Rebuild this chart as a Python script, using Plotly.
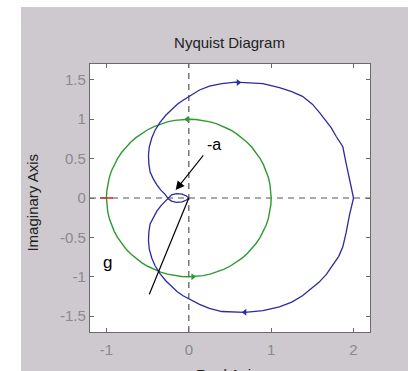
import plotly.graph_objects as go

# ---- data ----
blue_lower_re = [2.00, 1.99, 1.97, 1.95, 1.91, 1.87, 1.82, 1.75, 1.67, 1.58, 1.48, 1.38, 1.25, 1.10, 0.90,
                 0.68, 0.40, 0.25, 0.13, 0.03, -0.07, -0.14, -0.21, -0.28, -0.35, -0.41, -0.45, -0.48,
                 -0.49, -0.485, -0.47, -0.43, -0.39, -0.34, -0.29, -0.25, -0.21, -0.15, -0.08, -0.03, 0.00]
blue_lower_im = [0.00, -0.04, -0.12, -0.22, -0.44, -0.62, -0.74, -0.85, -0.97, -1.07, -1.16, -1.24, -1.32,
                 -1.38, -1.43, -1.45, -1.44, -1.40, -1.35, -1.30, -1.24, -1.19, -1.12, -1.05, -0.96,
                 -0.86, -0.76, -0.65, -0.54, -0.43, -0.33, -0.24, -0.17, -0.10, -0.05, 0.00, 0.04,
                 0.055, 0.05, 0.025, 0.00]
blue_upper_re = [0.00, -0.03, -0.08, -0.15, -0.21, -0.25, -0.29, -0.34, -0.39, -0.43, -0.47, -0.485, -0.49,
                 -0.48, -0.45, -0.41, -0.35, -0.28, -0.21, -0.14, -0.07, 0.03, 0.13, 0.25, 0.40, 0.57,
                 0.68, 0.90, 1.10, 1.25, 1.38, 1.50, 1.59, 1.66, 1.73, 1.79, 1.87, 1.91, 1.95, 1.97,
                 1.99, 2.00]
blue_upper_im = [0.00, -0.025, -0.05, -0.055, -0.04, -0.01, 0.05, 0.10, 0.17, 0.24, 0.33, 0.43, 0.54,
                 0.65, 0.76, 0.86, 0.96, 1.05, 1.12, 1.19, 1.24, 1.31, 1.37, 1.42, 1.45, 1.47,
                 1.465, 1.45, 1.40, 1.35, 1.29, 1.19, 1.08, 0.99, 0.89, 0.78, 0.65, 0.44, 0.23, 0.12,
                 0.04, 0.00]

green_re = [1.000, 0.996, 0.985, 0.966, 0.940, 0.906, 0.866, 0.819, 0.766, 0.707, 0.643, 0.574,
            0.500, 0.423, 0.342, 0.259, 0.174, 0.087, 0.000, -0.087, -0.174, -0.259, -0.342, -0.423,
            -0.500, -0.574, -0.643, -0.707, -0.766, -0.819, -0.866, -0.906, -0.940, -0.966, -0.985, -0.996,
            -1.000, -0.996, -0.985, -0.966, -0.940, -0.906, -0.866, -0.819, -0.766, -0.707, -0.643, -0.574,
            -0.500, -0.423, -0.342, -0.259, -0.174, -0.087, 0.000, 0.087, 0.174, 0.259, 0.342, 0.423,
            0.500, 0.574, 0.643, 0.707, 0.766, 0.819, 0.866, 0.906, 0.940, 0.966, 0.985, 0.996, 1.000]
green_im = [0.000, 0.087, 0.174, 0.259, 0.342, 0.423, 0.500, 0.574, 0.643, 0.707, 0.766, 0.819,
            0.866, 0.906, 0.940, 0.966, 0.985, 0.996, 1.000, 0.996, 0.985, 0.966, 0.940, 0.906,
            0.866, 0.819, 0.766, 0.707, 0.643, 0.574, 0.500, 0.423, 0.342, 0.259, 0.174, 0.087,
            0.000, -0.087, -0.174, -0.259, -0.342, -0.423, -0.500, -0.574, -0.643, -0.707, -0.766, -0.819,
            -0.866, -0.906, -0.940, -0.966, -0.985, -0.996, -1.000, -0.996, -0.985, -0.966, -0.940, -0.906,
            -0.866, -0.819, -0.766, -0.707, -0.643, -0.574, -0.500, -0.423, -0.342, -0.259, -0.174, -0.087,
            0.000]

red_re = [-1.08, -0.92]
red_im = [0.0, 0.0]

g_line_re = [0.0, -0.48]
g_line_im = [0.0, -1.22]

blue_arrow_re = [0.60, 0.68]
blue_arrow_im = [1.465, -1.45]
blue_arrow_sym = ["triangle-right", "triangle-left"]
green_arrow_re = [-0.02, 0.05]
green_arrow_im = [1.00, -1.00]
green_arrow_sym = ["triangle-left", "triangle-right"]

x_ticks = [-1, 0, 1, 2]
y_ticks = [-1.5, -1, -0.5, 0, 0.5, 1, 1.5]
y_tick_text = ["-1.5", "-1", "-0.5", "0", "0.5", "1", "1.5"]
x_range = [-1.2, 2.2]
y_range = [-1.7, 1.7]

BLUE = "#2b2b9e"
GREEN = "#2e9a30"
GRAY_BG = "#cdc9cf"
FONT = "Liberation Sans, Arial, sans-serif"

fig = go.Figure()

# dashed axes through origin
fig.add_trace(go.Scatter(x=[x_range[0], x_range[1]], y=[0, 0], mode="lines",
                         line=dict(color="#555555", width=1.2, dash="6px,5px"), hoverinfo="skip"))
fig.add_trace(go.Scatter(x=[0, 0], y=[y_range[0], y_range[1]], mode="lines",
                         line=dict(color="#555555", width=1.2, dash="6px,5px"), hoverinfo="skip"))

fig.add_trace(go.Scatter(x=green_re, y=green_im, mode="lines", line=dict(color=GREEN, width=1.4)))
fig.add_trace(go.Scatter(x=green_arrow_re, y=green_arrow_im, mode="markers",
                         marker=dict(symbol=green_arrow_sym, size=6, color=GREEN)))
fig.add_trace(go.Scatter(x=blue_lower_re, y=blue_lower_im, mode="lines", line=dict(color=BLUE, width=1.3)))
fig.add_trace(go.Scatter(x=blue_upper_re, y=blue_upper_im, mode="lines", line=dict(color=BLUE, width=1.3)))
fig.add_trace(go.Scatter(x=blue_arrow_re, y=blue_arrow_im, mode="markers",
                         marker=dict(symbol=blue_arrow_sym, size=6, color=BLUE)))
fig.add_trace(go.Scatter(x=red_re, y=red_im, mode="lines", line=dict(color="#e03020", width=1.6)))
fig.add_trace(go.Scatter(x=g_line_re, y=g_line_im, mode="lines", line=dict(color="black", width=1.2)))

# "-a" arrow and labels
fig.add_annotation(x=-0.16, y=0.10, ax=0.19, ay=0.56, xref="x", yref="y", axref="x", ayref="y",
                   text="", showarrow=True, arrowhead=2, arrowsize=1.6, arrowwidth=1.1, arrowcolor="black")
fig.add_annotation(x=0.30, y=0.68, xref="x", yref="y", text="-a", showarrow=False,
                   font=dict(family=FONT, size=16, color="black"))
fig.add_annotation(x=-0.99, y=-0.82, xref="x", yref="y", text="g", showarrow=False,
                   font=dict(family=FONT, size=17, color="black"))

# axis titles (placed as in the reference; the x title is cut by the bottom edge)
fig.add_annotation(x=0.49, y=-0.16, xref="paper", yref="paper", text="Real Axis", showarrow=False,
                   xanchor="center", yanchor="middle", font=dict(family=FONT, size=15, color="#222222"))
fig.add_annotation(x=-0.2036, y=0.483, xref="paper", yref="paper", text="Imaginary Axis", showarrow=False,
                   textangle=-90, xanchor="center", yanchor="middle",
                   font=dict(family=FONT, size=15, color="#222222"))

# white page margin (left/top strips outside the gray figure)
fig.add_shape(type="rect", xref="paper", yref="paper", x0=-0.33, x1=-0.2464, y0=-0.2, y1=1.25,
              fillcolor="white", line_width=0, layer="below")
fig.add_shape(type="rect", xref="paper", yref="paper", x0=-0.33, x1=1.2, y0=1.2127, y1=1.25,
              fillcolor="white", line_width=0, layer="below")

axis_common = dict(showgrid=False, zeroline=False, showline=True, mirror="ticks",
                   linecolor="#6a6a6a", linewidth=1.2, ticks="inside", ticklen=4,
                   tickcolor="#6a6a6a", automargin=False,
                   tickfont=dict(family=FONT, size=15, color="#8a8a8a"))

fig.update_layout(
    width=408, height=371,
    margin=dict(l=90, r=38, t=64, b=39),
    paper_bgcolor=GRAY_BG, plot_bgcolor="white",
    showlegend=False,
    title=dict(text="Nyquist Diagram", x=0.5625, xanchor="center", y=0.884, yanchor="middle",
               font=dict(family=FONT, size=15, color="#222222")),
    xaxis=dict(range=x_range, tickvals=x_ticks, ticktext=[str(v) for v in x_ticks],
               ticklabelstandoff=4, **axis_common),
    yaxis=dict(range=y_range, tickvals=y_ticks, ticktext=y_tick_text, **axis_common),
)

fig.write_html(
    "out.html",
    post_script=(
        "document.documentElement.style.overflow='hidden';"
        "document.body.style.overflow='hidden';"
        "document.body.style.margin='0';"
        "document.body.style.background='" + GRAY_BG + "';"
    ),
)
